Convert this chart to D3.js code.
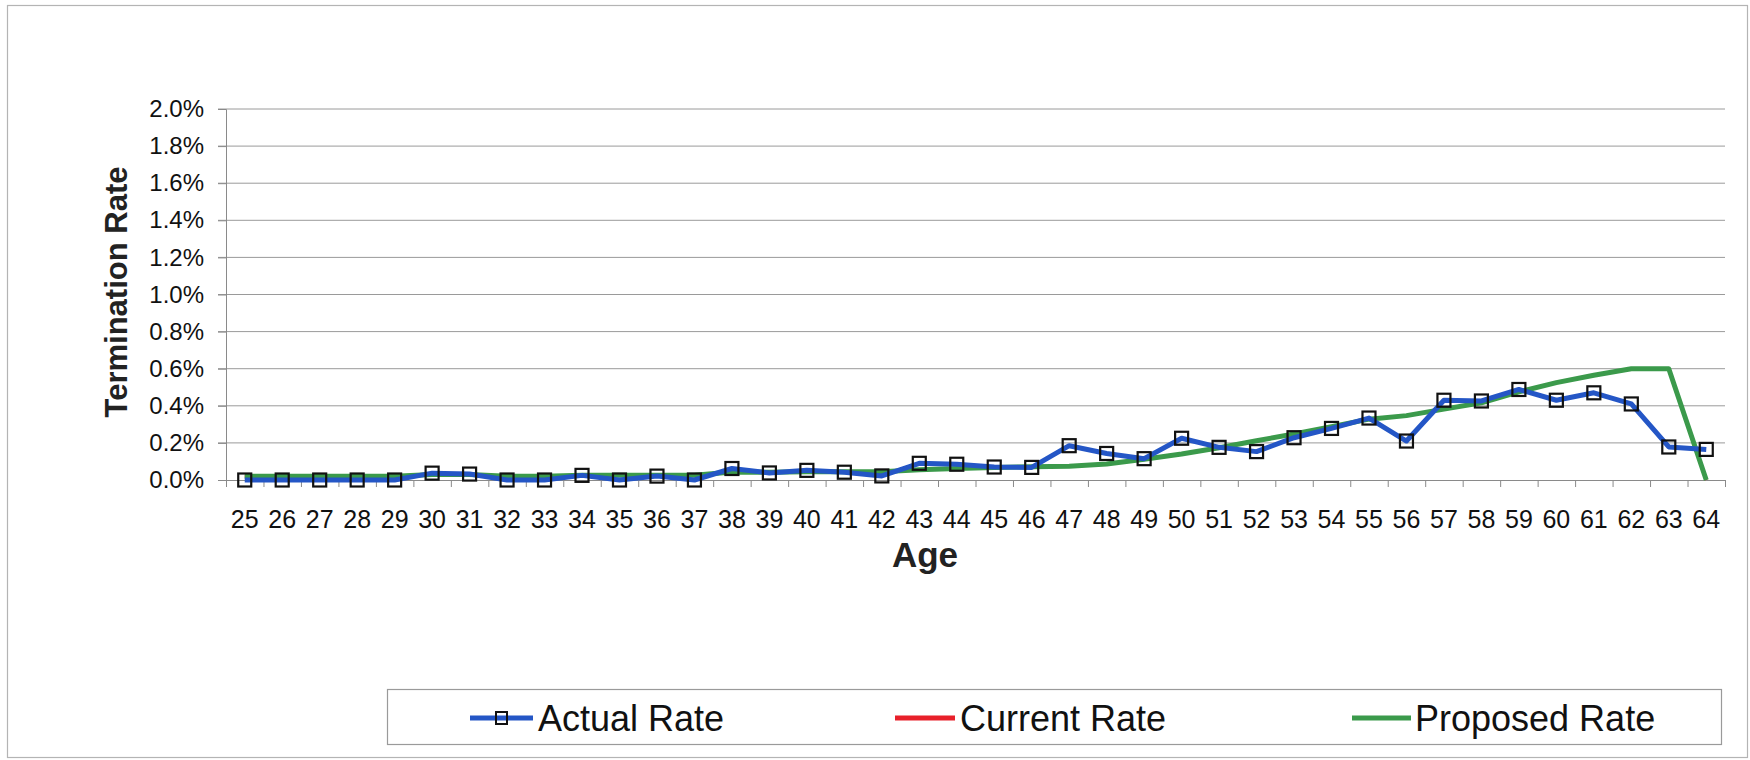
<!DOCTYPE html>
<html>
<head>
<meta charset="utf-8">
<script src="https://cdn.jsdelivr.net/npm/d3@7"></script>
<style>
  html, body { margin: 0; padding: 0; background: #fff; }
  svg { display: block; font-family: Arial, "Liberation Sans", Helvetica, sans-serif; }
</style>
</head>
<body>
<svg id="chart" width="1750" height="760"></svg>
<script>
// Termination rate by age (values in percent)
const ages = d3.range(25, 65);
const actualRate = [
  0.000, 0.000, 0.000, 0.000, 0.000, 0.037, 0.032, 0.000, 0.000, 0.025,
  0.000, 0.021, 0.000, 0.062, 0.038, 0.052, 0.042, 0.022, 0.090, 0.085,
  0.070, 0.068, 0.185, 0.143, 0.115, 0.225, 0.176, 0.153, 0.228, 0.278,
  0.334, 0.210, 0.430, 0.426, 0.488, 0.430, 0.470, 0.410, 0.178, 0.165
];
const currentRate = [
  0.020, 0.020, 0.020, 0.020, 0.020, 0.030, 0.030, 0.020, 0.020, 0.025,
  0.025, 0.025, 0.025, 0.043, 0.042, 0.044, 0.044, 0.045, 0.055, 0.062,
  0.068, 0.071, 0.074, 0.086, 0.112, 0.140, 0.174, 0.212, 0.248, 0.287,
  0.328, 0.347, 0.382, 0.416, 0.475, 0.525, 0.565, 0.600, 0.600, 0.000
];
const proposedRate = currentRate.slice();
const yTicks = d3.range(0, 2.0001, 0.2);
const seriesNames = ["Actual Rate", "Current Rate", "Proposed Rate"];
const seriesColors = ["#2456c6", "#e8202a", "#3b9a4b"];

const svg = d3.select("#chart");

// frame around the whole chart
svg.append("rect")
  .attr("x", 7.5).attr("y", 5.5).attr("width", 1740).attr("height", 752)
  .attr("fill", "#fff").attr("stroke", "#b4b4b4").attr("stroke-width", 1.2);

const plot = { left: 226, right: 1725, top: 109, bottom: 480 };

const x = d3.scaleBand().domain(ages).range([plot.left, plot.right]).padding(0);
const xEdge = d3.scaleLinear().domain([0, ages.length]).range([plot.left, plot.right]);
const y = d3.scaleLinear().domain([0, 2.0]).range([plot.bottom, plot.top]);
const cx = a => x(a) + x.bandwidth() / 2;

// horizontal gridlines
svg.append("g")
  .selectAll("line")
  .data(yTicks.slice(1))
  .join("line")
  .attr("x1", plot.left - 8).attr("x2", plot.right)
  .attr("y1", d => y(d)).attr("y2", d => y(d))
  .attr("stroke", "#9a9a9a").attr("stroke-width", 1);

// y axis
const yAxis = svg.append("g")
  .attr("transform", `translate(${plot.left},0)`)
  .call(d3.axisLeft(y).tickValues(yTicks).tickSize(8).tickPadding(14)
    .tickFormat(d => d.toFixed(1) + "%"));
yAxis.select(".domain").attr("stroke", "#8a8a8a");
yAxis.selectAll(".tick line").attr("stroke", "#8a8a8a");
yAxis.selectAll("text").attr("font-size", 24).attr("fill", "#111");

// x axis: tick marks between categories, labels at category centres
const xTickAxis = svg.append("g")
  .attr("transform", `translate(0,${plot.bottom})`)
  .call(d3.axisBottom(xEdge).tickValues(d3.range(0, ages.length + 1)).tickSize(7).tickFormat(""));
xTickAxis.select(".domain").attr("stroke", "#8a8a8a");
xTickAxis.selectAll(".tick line").attr("stroke", "#8a8a8a");

const xLabelAxis = svg.append("g")
  .attr("transform", `translate(0,${plot.bottom})`)
  .call(d3.axisBottom(x).tickSize(0).tickPadding(30));
xLabelAxis.select(".domain").remove();
xLabelAxis.selectAll("text").attr("font-size", 25).attr("fill", "#111");

// axis titles
svg.append("text")
  .attr("x", 925).attr("y", 567)
  .attr("text-anchor", "middle")
  .attr("font-size", 35).attr("font-weight", "bold").attr("fill", "#222")
  .text("Age");

svg.append("text")
  .attr("transform", "translate(127,292) rotate(-90)")
  .attr("text-anchor", "middle")
  .attr("font-size", 31).attr("font-weight", "bold").attr("fill", "#222")
  .text("Termination Rate");

// series lines
const line = d3.line().x((d, i) => cx(ages[i])).y(d => y(d));

svg.append("path").datum(currentRate)
  .attr("d", line).attr("fill", "none")
  .attr("stroke", seriesColors[1]).attr("stroke-width", 3).attr("stroke-linejoin", "round");

svg.append("path").datum(proposedRate)
  .attr("d", line).attr("fill", "none")
  .attr("stroke", seriesColors[2]).attr("stroke-width", 5).attr("stroke-linejoin", "round");

svg.append("path").datum(actualRate)
  .attr("d", line).attr("fill", "none")
  .attr("stroke", seriesColors[0]).attr("stroke-width", 5).attr("stroke-linejoin", "round");

// square markers on the actual series
const m = 13;
svg.append("g")
  .selectAll("rect")
  .data(actualRate)
  .join("rect")
  .attr("x", (d, i) => cx(ages[i]) - m / 2)
  .attr("y", d => y(d) - m / 2)
  .attr("width", m).attr("height", m)
  .attr("fill", "none").attr("stroke", "#111").attr("stroke-width", 2.2);

// legend
const legend = svg.append("g");
legend.append("rect")
  .attr("x", 387.5).attr("y", 689.5).attr("width", 1334).attr("height", 55)
  .attr("fill", "#fff").attr("stroke", "#9a9a9a").attr("stroke-width", 1.2);

const legendItems = [
  { x0: 470, x1: 533, tx: 538 },
  { x0: 895, x1: 955, tx: 960 },
  { x0: 1352, x1: 1411, tx: 1415 }
];
const ly = 718;
legendItems.forEach((it, i) => {
  legend.append("line")
    .attr("x1", it.x0).attr("x2", it.x1).attr("y1", ly).attr("y2", ly)
    .attr("stroke", seriesColors[i]).attr("stroke-width", 5);
  if (i === 0) {
    legend.append("rect")
      .attr("x", (it.x0 + it.x1) / 2 - 5.5).attr("y", ly - 6)
      .attr("width", 11).attr("height", 12)
      .attr("fill", "none").attr("stroke", "#111").attr("stroke-width", 2);
  }
  legend.append("text")
    .attr("x", it.tx).attr("y", 731)
    .attr("font-size", 36).attr("fill", "#111")
    .text(seriesNames[i]);
});
</script>
</body>
</html>
